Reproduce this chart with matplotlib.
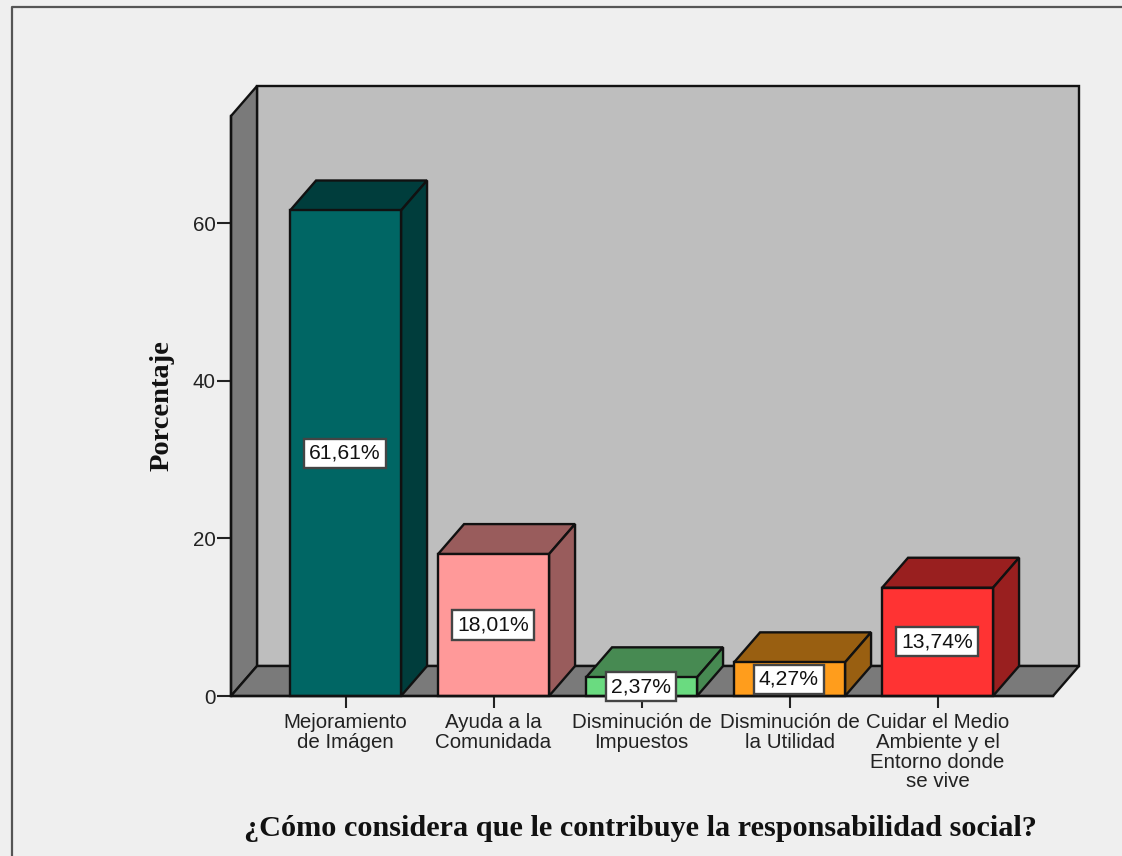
# -*- coding: utf-8 -*-
import numpy as np
import matplotlib
matplotlib.use("Agg")
import matplotlib.pyplot as plt
from matplotlib.patches import Polygon
from matplotlib.lines import Line2D

categorias = ["Mejoramiento\nde Imágen", "Ayuda a la\nComunidada", "Disminución de\nImpuestos",
              "Disminución de\nla Utilidad", "Cuidar el Medio\nAmbiente y el\nEntorno donde\nse vive"]
porcentajes = [61.61, 18.01, 2.37, 4.27, 13.74]
etiquetas = ["61,61%", "18,01%", "2,37%", "4,27%", "13,74%"]
yticks = [0, 20, 40, 60]
frente = ["#006664", "#FF9999", "#6ADB80", "#FF9D1C", "#FF3333"]
lateral = ["#003D3C", "#995C5C", "#478A52", "#995F11", "#991F1F"]

W, H = 1122, 856
FONDO, PARED, SUELO, LINEA = "#EFEFEF", "#BEBEBE", "#7A7A7A", "#111111"
SANS, SERIF = "Liberation Sans", "Liberation Serif"
DX, DY = 26 / 148, 30 / 7.883   # profondeur 3D en unités de données
ANCHO = 0.75
XMIN, XMAX = -0.774, 4.78
YMAX = 73.6
LW = 1.7

fig = plt.figure(figsize=(W / 100, H / 100), dpi=100, facecolor=FONDO)
ax = fig.add_axes([231 / W, 1 - 696 / H, 822 / W, 580 / H])
ax.set_xlim(XMIN, XMAX)
ax.set_ylim(0, YMAX)
ax.patch.set_visible(False)


def cara(puntos, color, z):
    ax.add_patch(Polygon(puntos, closed=True, facecolor=color, edgecolor=LINEA,
                         lw=LW, joinstyle="miter", clip_on=False, zorder=z))


# paredes del gráfico
cara([(XMIN + DX, DY), (XMAX + DX, DY), (XMAX + DX, YMAX + DY), (XMIN + DX, YMAX + DY)], PARED, 1)
cara([(XMIN, 0), (XMIN + DX, DY), (XMIN + DX, YMAX + DY), (XMIN, YMAX)], SUELO, 1.5)
cara([(XMIN, 0), (XMIN + DX, DY), (XMAX + DX, DY), (XMAX, 0)], SUELO, 1.5)

# barras
xs = np.arange(len(porcentajes))
for x, v, c, d in zip(xs, porcentajes, frente, lateral):
    x0, x1 = x - ANCHO / 2, x + ANCHO / 2
    cara([(x0, v), (x0 + DX, v + DY), (x1 + DX, v + DY), (x1, v)], d, 2)
    cara([(x1, 0), (x1 + DX, DY), (x1 + DX, v + DY), (x1, v)], d, 2)
ax.bar(xs, porcentajes, width=ANCHO, color=frente, edgecolor=LINEA, lw=LW, zorder=3, clip_on=False)

for x, v, t in zip(xs, porcentajes, etiquetas):
    ax.text(x - 0.005, v / 2, t, ha="center", va="center", fontsize=15.2, family=SANS, color="#111111", zorder=6,
            bbox=dict(boxstyle="square,pad=0.24", facecolor="white", edgecolor="#444444", lw=LW))

# ejes
for lado in ["top", "right"]:
    ax.spines[lado].set_visible(False)
for lado in ["left", "bottom"]:
    ax.spines[lado].set_linewidth(LW)
    ax.spines[lado].set_color(LINEA)
    ax.spines[lado].set_zorder(4)
ax.set_yticks(yticks)
ax.set_xticks(xs)
ax.set_xticklabels(categorias, linespacing=1.04)
ax.tick_params(axis="y", length=10, width=1.5, color="#222222", pad=1, labelsize=14.8, labelcolor="#222222")
ax.tick_params(axis="x", length=8.6, width=1.5, color="#222222", pad=4, labelsize=14.8, labelcolor="#222222")
for t in ax.get_xticklabels() + ax.get_yticklabels():
    t.set_family(SANS)

ax.set_ylabel("Porcentaje", family=SERIF, fontweight="bold", fontsize=20.5, color="#111111")
ax.yaxis.set_label_coords((175 - 231) / 822, (696 - 406) / 580)
ax.set_xlabel("¿Cómo considera que le contribuye la responsabilidad social?", family=SERIF,
              fontweight="bold", fontsize=21.8, color="#111111", va="center")
ax.xaxis.set_label_coords((640 - 231) / 822, (696 - 828) / 580)

# marco exterior
fig.add_artist(Line2D([11.5 / W, 11.5 / W, 1], [0, 1 - 6.5 / H, 1 - 6.5 / H], color="#555555", lw=1.6))

fig.savefig("out.png", dpi=100, facecolor=FONDO)
